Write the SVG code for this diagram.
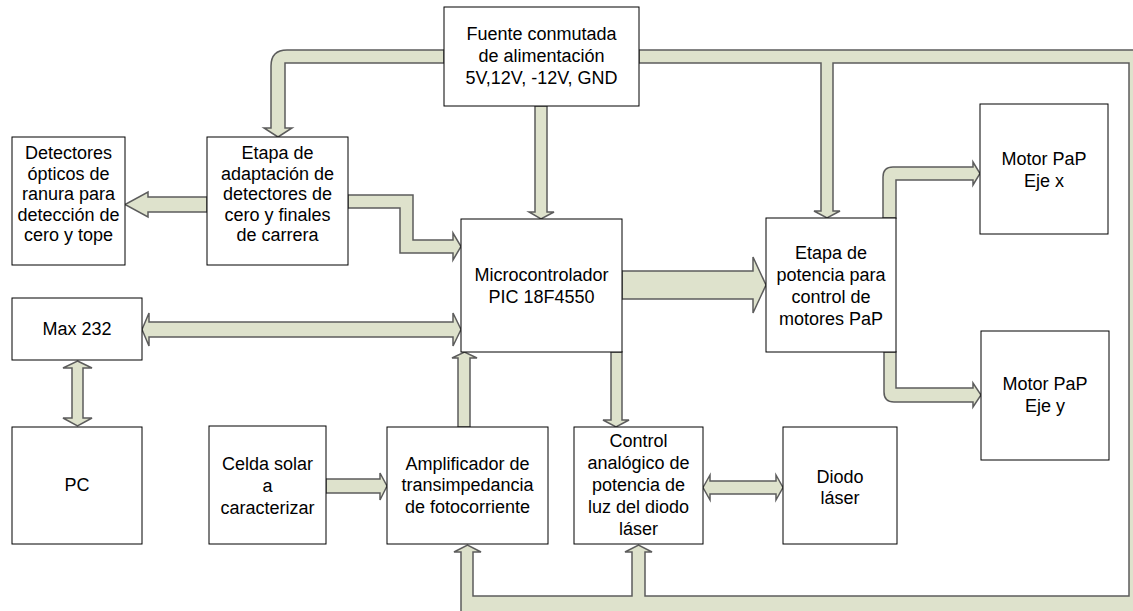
<svg xmlns="http://www.w3.org/2000/svg" width="1133" height="611" viewBox="0 0 1133 611">
<style>
.box{fill:#ffffff;stroke:#000000;stroke-width:1}
.arr{fill:#dee2cc;stroke:#5c5c5c;stroke-width:1.5;stroke-linejoin:miter}
text{font-family:"Liberation Sans",Arial,sans-serif;font-size:18px;fill:#000000;text-anchor:middle}
</style>
<rect width="1133" height="611" fill="#ffffff"/>
<g id="connectors">
<path class="arr" d="M639,50 L1145,50 L1145,625 L461,625 L461,552 L454,552 L467.5,545 L481,552 L473,552 L473,596 L632,596 L632,552 L625,552 L638.5,545 L652,552 L645,552 L645,596 L1129,596 L1129,63 L833,63 L833,211 L840,211 L827,218 L814,211 L821,211 L821,63 L639,63 Z"/>
<path class="arr" d="M444,50 L287,50 Q271,50 271,66 L271,128 L264,128 L278,137 L292,128 L285,128 L285,63 L444,63 Z"/>
<path class="arr" d="M535,106 L535,212 L529,212 L541,219 L554,212 L547,212 L547,106 Z"/>
<path class="arr" d="M207,197 L148,197 L148,192 L125,204.5 L148,217 L148,212 L207,212 Z"/>
<path class="arr" d="M348,195 L413,195 L413,240 L453,240 L453,233 L461,246.5 L453,260 L453,253 L400,253 L400,208 L348,208 Z"/>
<path class="arr" d="M622,271 L753,271 L753,257 L766,285 L753,313 L753,299 L622,299 Z"/>
<path class="arr" d="M883,218 L883,177 Q883,167 893,167 L973,167 L973,162 L980,173.5 L973,185 L973,180 L896,180 L896,218 Z"/>
<path class="arr" d="M884,352 L884,392 Q884,402 894,402 L973,402 L973,407 L981,395 L973,383 L973,388 L896,388 L896,352 Z"/>
<path class="arr" d="M142,329.5 L149,313 L149,322 L453,322 L453,313 L461,329.5 L453,346 L453,337 L149,337 L149,346 Z"/>
<path class="arr" d="M77.5,361 L92,368 L83,368 L83,418 L92,418 L77.5,426 L63,418 L72,418 L72,368 L63,368 Z"/>
<path class="arr" d="M458,427 L458,358 L452,358 L464.5,352 L477,358 L470,358 L470,427 Z"/>
<path class="arr" d="M611,352 L611,420 L603,420 L616,427 L629,420 L622,420 L622,352 Z"/>
<path class="arr" d="M703,487.5 L710,475 L710,481 L776,481 L776,475 L783,487.5 L776,500 L776,494 L710,494 L710,500 Z"/>
<path class="arr" d="M326,479 L380,479 L380,473 L387,486 L380,500 L380,493 L326,493 Z"/>
</g>
<g id="fuente"><rect class="box" x="444" y="7" width="195" height="99"/><text x="541.5" y="40">Fuente conmutada</text><text x="541.5" y="62">de alimentación</text><text x="541.5" y="84">5V,12V, -12V, GND</text></g>
<g id="detectores"><rect class="box" x="12" y="137" width="113" height="128"/><text x="68.5" y="159">Detectores</text><text x="68.5" y="180">ópticos de</text><text x="68.5" y="200">ranura para</text><text x="68.5" y="221">detección de</text><text x="68.5" y="241">cero y tope</text></g>
<g id="adaptacion"><rect class="box" x="207" y="137" width="141" height="128"/><text x="277.5" y="159">Etapa de</text><text x="277.5" y="180">adaptación de</text><text x="277.5" y="200">detectores de</text><text x="277.5" y="221">cero y finales</text><text x="277.5" y="241">de carrera</text></g>
<g id="micro"><rect class="box" x="461" y="219" width="161" height="133"/><text x="541.5" y="281">Microcontrolador</text><text x="541.5" y="303">PIC 18F4550</text></g>
<g id="potencia"><rect class="box" x="766" y="218" width="130" height="134"/><text x="831" y="259">Etapa de</text><text x="831" y="281">potencia para</text><text x="831" y="303">control de</text><text x="831" y="325">motores PaP</text></g>
<g id="motorx"><rect class="box" x="980" y="104" width="128" height="130"/><text x="1044" y="165">Motor PaP</text><text x="1044" y="187">Eje x</text></g>
<g id="motory"><rect class="box" x="981" y="331" width="128" height="129"/><text x="1045" y="390">Motor PaP</text><text x="1045" y="412">Eje y</text></g>
<g id="max232"><rect class="box" x="12" y="298" width="130" height="62"/><text x="77" y="335">Max 232</text></g>
<g id="pc"><rect class="box" x="12" y="427" width="130" height="117"/><text x="77" y="491">PC</text></g>
<g id="celda"><rect class="box" x="209" y="426" width="117" height="118"/><text x="267.5" y="470">Celda solar</text><text x="267.5" y="492">a</text><text x="267.5" y="514">caracterizar</text></g>
<g id="amplificador"><rect class="box" x="387" y="427" width="161" height="117"/><text x="467.5" y="470">Amplificador de</text><text x="467.5" y="491">transimpedancia</text><text x="467.5" y="513">de fotocorriente</text></g>
<g id="control"><rect class="box" x="574" y="427" width="129" height="117"/><text x="638.5" y="447">Control</text><text x="638.5" y="469">analógico de</text><text x="638.5" y="491">potencia de</text><text x="638.5" y="513">luz del diodo</text><text x="638.5" y="535">láser</text></g>
<g id="diodo"><rect class="box" x="783" y="427" width="114" height="117"/><text x="840" y="483">Diodo</text><text x="840" y="504">láser</text></g>
</svg>
